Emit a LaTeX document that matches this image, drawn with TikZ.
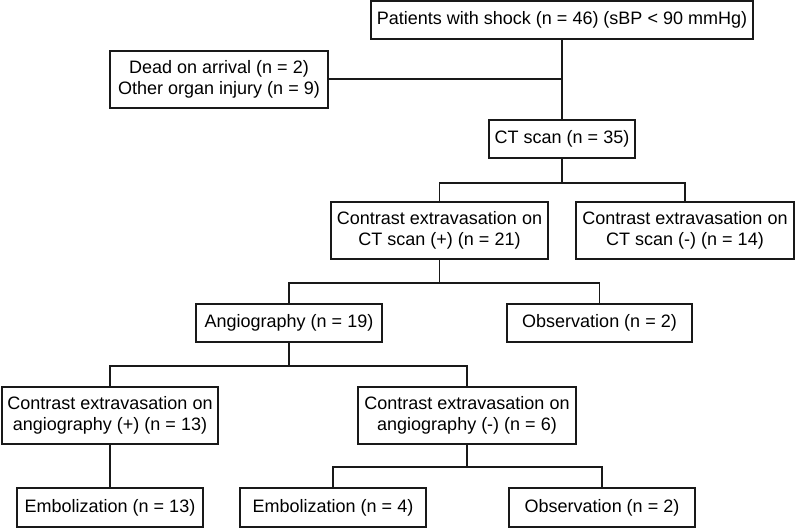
\documentclass[tikz,border=0pt]{standalone}
\usepackage{fontspec}
\setmainfont{Liberation Sans}
\begin{document}
\begin{tikzpicture}[x=1pt,y=-1pt,
  box/.style={draw=black!90, line width=1.4pt, fill=white, inner sep=0pt, align=center,
    font=\fontsize{18}{20.5}\selectfont},
  conn/.style={draw=black!90, line width=1.4pt}]
\useasboundingbox (0,0) rectangle (795,529);
\node[box, minimum width=382, minimum height=38] (top) at (562,20) {Patients with shock (n = 46) (sBP < 90 mmHg)};
\node[box, minimum width=218, minimum height=57] (dead) at (219,79.5) {Dead on arrival (n = 2)\\Other organ injury (n = 9)};
\node[box, minimum width=146, minimum height=38] (ct) at (562,139) {CT scan (n = 35)};
\node[box, minimum width=217, minimum height=57] (cep) at (439.5,230.5) {Contrast extravasation on\\CT scan (+) (n = 21)};
\node[box, minimum width=218, minimum height=57] (cen) at (685,230.5) {Contrast extravasation on\\CT scan (-) (n = 14)};
\node[box, minimum width=186, minimum height=38] (ang) at (289,323) {Angiography (n = 19)};
\node[box, minimum width=185, minimum height=38] (obsa) at (599.5,323) {Observation (n = 2)};
\node[box, minimum width=216, minimum height=57] (cap) at (110,415.5) {Contrast extravasation on\\angiography (+) (n = 13)};
\node[box, minimum width=218, minimum height=57] (can) at (467,415.5) {Contrast extravasation on\\angiography (-) (n = 6)};
\node[box, minimum width=186, minimum height=39] (embA) at (110,507.5) {Embolization (n = 13)};
\node[box, minimum width=186, minimum height=39] (embB) at (333,507.5) {Embolization (n = 4)};
\node[box, minimum width=186, minimum height=39] (obsb) at (602,507.5) {Observation (n = 2)};
\coordinate (j0) at (562,79);
\coordinate (j1) at (562,183);
\coordinate (j2) at (439.5,283);
\coordinate (j3) at (289,366);
\coordinate (j4) at (467,467);
\draw[conn] (top.south) -- (ct.north);
\draw[conn] (dead.east |- j0) -- (j0);
\draw[conn] (ct.south) -- (j1);
\draw[conn] (cep.north) |- (j1) -| (cen.north);
\draw[conn] (cep.south) -- (j2);
\draw[conn] (ang.north) |- (j2) -| (obsa.north);
\draw[conn] (ang.south) -- (j3);
\draw[conn] (cap.north) |- (j3) -| (can.north);
\draw[conn] (cap.south) -- (embA.north);
\draw[conn] (can.south) -- (j4);
\draw[conn] (embB.north) |- (j4) -| (obsb.north);
\end{tikzpicture}
\end{document}
